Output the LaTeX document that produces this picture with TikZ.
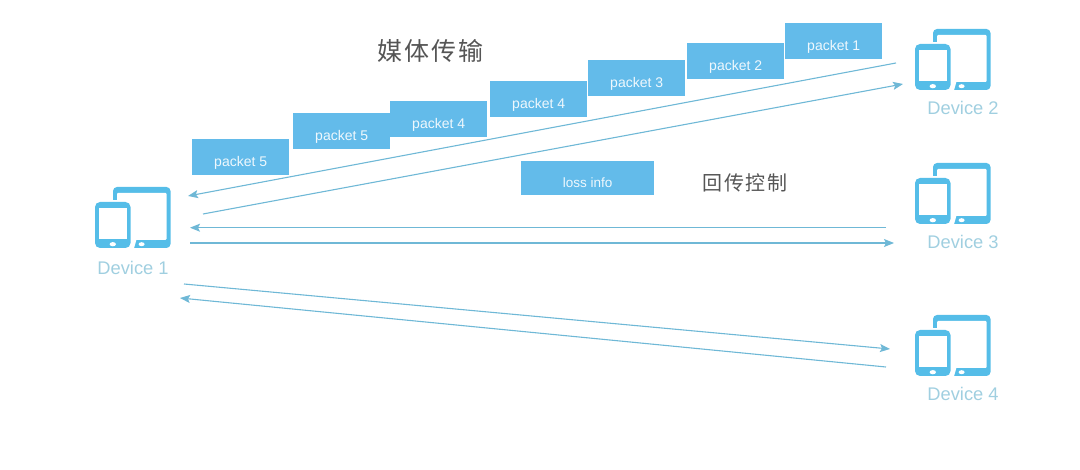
\documentclass[tikz,border=0pt]{standalone}
\usepackage{fontspec}
\setmainfont{Liberation Sans}
\newfontfamily\cjk[LetterSpace=8]{Noto Sans CJK SC}
\usetikzlibrary{arrows.meta}
\definecolor{boxblue}{HTML}{63BBEA}
\definecolor{iconblue}{HTML}{55BDE8}
\definecolor{labelblue}{HTML}{A0CFE0}
\definecolor{linkblue}{HTML}{6FB8D6}
\definecolor{titlegray}{HTML}{555555}
\tikzset{
  pkt/.style={fill=boxblue,draw=none,anchor=north west,inner sep=0pt,minimum width=97pt,minimum height=35.5pt,text=white!90!boxblue,font=\fontsize{14}{14}\selectfont},
  devlabel/.style={text=labelblue,font=\fontsize{18.3}{18}\selectfont,inner sep=0pt},
  title/.style={text=titlegray,inner sep=0pt},
  link/.style={draw=linkblue,line width=1.1pt,-{Stealth[length=10pt,width=8pt,inset=2pt]}},
  pics/device/.style={code={
    % tablet
    \fill[iconblue,rounded corners=4pt] (18,-61) rectangle (75.5,0);
    \fill[white,rounded corners=1pt] (22,-55) rectangle (71.5,-8);
    % gap round the phone and slanted start of the tablet's base
    \fill[white] (14,-48) rectangle (38,1);
    \fill[white] (37.9,1) -- (37.9,-8.5) -- (41.5,-8.5) -- (38.8,1) -- cycle;
    \fill[white] (46.6,-3.8) ellipse (3pt and 2pt);
    % phone
    \fill[iconblue,rounded corners=5pt] (0,0) rectangle (35.5,-46);
    \fill[white] (4,-9) rectangle (31.5,-40);
    \fill[white] (17.8,-3.8) ellipse (3.2pt and 2.1pt);
  }}
}
\newcommand{\lowered}[1]{\raisebox{-10pt}[0pt][0pt]{#1}}
\begin{document}
\begin{tikzpicture}[x=1pt,y=-1pt]
\useasboundingbox (0,0) rectangle (1080,470);
\pic at (95,248) {device};
\pic at (915,90) {device};
\pic at (915,224) {device};
\pic at (915,376) {device};

\node[devlabel] (d1) at (133,268) {Device 1};
\node[devlabel] (d2) at (963,108) {Device 2};
\node[devlabel] (d3) at (963,242) {Device 3};
\node[devlabel] (d4) at (963,394) {Device 4};

\node[pkt] (p5a) at (192,139) {\lowered{packet 5}};
\node[pkt] (p5b) at (293,113) {\lowered{packet 5}};
\node[pkt] (p4a) at (390,101) {\lowered{packet 4}};
\node[pkt] (p4b) at (490,81) {\lowered{packet 4}};
\node[pkt] (p3) at (588,60) {\lowered{packet 3}};
\node[pkt] (p2) at (687,43) {\lowered{packet 2}};
\node[pkt] (p1) at (785,23) {\lowered{packet 1}};
\node[pkt,minimum width=133pt,minimum height=34pt,font=\fontsize{13.5}{13}\selectfont] (loss) at (521,161) {\raisebox{-9pt}[0pt][0pt]{loss info}};

\node[title,font=\cjk\fontsize{25}{25}\selectfont] (t1) at (430,51) {媒体传输};
\node[title,font=\cjk\fontsize{20}{20}\selectfont] (t2) at (745,183) {回传控制};

\coordinate (a1) at (896,63);  \coordinate (a2) at (188,196);
\coordinate (b1) at (203,214); \coordinate (b2) at (903,84);
\coordinate (c1) at (886,227.7); \coordinate (c2) at (190,227.7);
\coordinate (e1) at (190,243); \coordinate (e2) at (894,243);
\coordinate (f1) at (184,284); \coordinate (f2) at (890,349);
\coordinate (g1) at (886,367); \coordinate (g2) at (180,298);
\draw[link] (a1) -- (a2);
\draw[link] (b1) -- (b2);
\draw[link] (c1) -- (c2);
\draw[link] (e1) -- (e2);
\draw[link] (f1) -- (f2);
\draw[link] (g1) -- (g2);
\end{tikzpicture}
\end{document}
